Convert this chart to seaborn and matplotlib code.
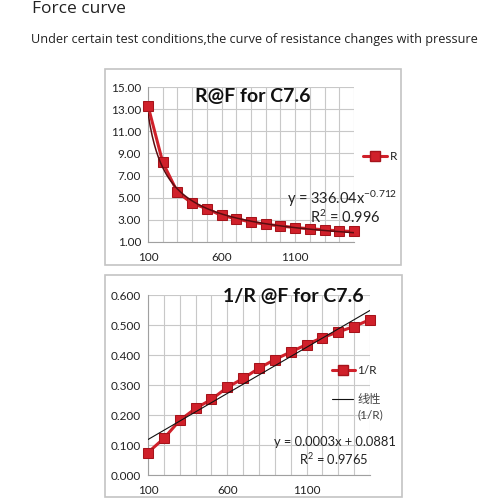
import numpy as np
import pandas as pd
import matplotlib
matplotlib.use("Agg")
import matplotlib.pyplot as plt
from matplotlib.patches import Rectangle
import seaborn as sns

force = [100, 200, 300, 400, 500, 600, 700, 800, 900, 1000, 1100, 1200, 1300, 1400, 1500]
resistance = [13.3, 8.2, 5.5, 4.5, 4.0, 3.4, 3.1, 2.8, 2.6, 2.45, 2.3, 2.2, 2.1, 2.0, 1.95]
inv_r = [0.075, 0.122, 0.182, 0.222, 0.252, 0.292, 0.322, 0.356, 0.385, 0.410,
         0.435, 0.458, 0.477, 0.495, 0.518]
power_a, power_b = 336.04, -0.712

sns.set_style("white")
plt.rcParams['font.family'] = ['Lato', 'Noto Sans CJK SC', 'DejaVu Sans']
plt.rcParams['mathtext.default'] = 'regular'

df = pd.DataFrame({"F": force, "R": resistance, "1/R": inv_r})
red = "#D0202A"
edge = "#A5141B"

fig = plt.figure(figsize=(5, 5), dpi=100)
W = H = 500.0

def fx(px):
    return px / W

def fy(py):
    return 1 - py / H

fig.text(fx(32), fy(9), "Force curve", fontsize=12.5, family=['Open Sans', 'DejaVu Sans'],
         va="center", ha="left", color="#222222")
fig.text(fx(31), fy(40), "Under certain test conditions,the curve of resistance changes with pressure",
         fontsize=9.05, family=['Open Sans', 'DejaVu Sans'], va="center", ha="left", color="#222222")

# chart frames
for (x0, y0, x1, y1) in [(105, 69, 401, 265), (105, 275, 402, 497)]:
    fig.patches.append(Rectangle((fx(x0), fy(y1)), fx(x1 - x0), (y1 - y0) / H,
                                 transform=fig.transFigure, fill=False,
                                 edgecolor="#C4C4C4", linewidth=1.2))

def style_axis(ax, yticks, fmt):
    ax.set_xlim(100, 1500)
    ax.set_xticks(force)
    ax.set_xticklabels([str(v) if v in (100, 600, 1100) else "" for v in force])
    ax.set_yticks(yticks)
    ax.set_yticklabels([fmt.format(v) for v in yticks])
    ax.set_ylim(yticks[0], yticks[-1])
    ax.grid(True, color="#C8C8C8", linewidth=0.8)
    for s in ["top", "right"]:
        ax.spines[s].set_visible(False)
    for s in ["left", "bottom"]:
        ax.spines[s].set_color("#A0A0A0")
        ax.spines[s].set_linewidth(0.8)
    ax.tick_params(axis="both", labelsize=8.5, length=3, color="#A0A0A0",
                   labelcolor="#222222", pad=2)
    ax.tick_params(axis="x", pad=4)
    ax.set_xlabel("")
    ax.set_ylabel("")

# top chart: R vs F
ax1 = fig.add_axes([fx(148), fy(242), (354 - 148) / W, (242 - 87) / H])
xs = np.linspace(100, 1500, 200)
sns.lineplot(data=df, x="F", y="R", ax=ax1, color=red, linewidth=2.2, marker="s",
             markersize=7.5, markeredgecolor=edge, markerfacecolor=red, clip_on=False, zorder=3)
ax1.plot(xs, power_a * xs ** power_b, color="#5A0C10", linewidth=1.1, zorder=4)
style_axis(ax1, [1, 3, 5, 7, 9, 11, 13, 15], "{:.2f}")
fig.text(fx(253), fy(96), "R@F for C7.6", fontsize=14, fontweight="bold",
         ha="center", va="center", color="#111111")
fig.text(fx(397), fy(199), "y = 336.04x$^{-0.712}$", fontsize=10.5, ha="right",
         va="center", color="#222222")
fig.text(fx(345), fy(217), "R$^2$ = 0.996", fontsize=10.5, ha="center",
         va="center", color="#222222")
fig.lines.append(plt.Line2D([fx(363), fx(387)], [fy(156), fy(156)], transform=fig.transFigure,
                            color=red, linewidth=2.2))
fig.lines.append(plt.Line2D([fx(375)], [fy(156)], transform=fig.transFigure,
                            color=red, marker="s", markersize=6.5, markeredgecolor=edge))
fig.text(fx(390), fy(156), "R", fontsize=8.5, ha="left", va="center", color="#222222")

# bottom chart: 1/R vs F
ax2 = fig.add_axes([fx(148), fy(475), (370 - 148) / W, (475 - 295) / H])
fit = np.polyfit(force, inv_r, 1)
sns.lineplot(data=df, x="F", y="1/R", ax=ax2, color=red, linewidth=2.2, marker="s",
             markersize=7.5, markeredgecolor=edge, markerfacecolor=red, clip_on=False, zorder=3)
ax2.plot(xs, np.polyval(fit, xs), color="#111111", linewidth=0.8, zorder=4)
style_axis(ax2, [0, 0.1, 0.2, 0.3, 0.4, 0.5, 0.6], "{:.3f}")
fig.text(fx(293), fy(296), "1/R @F for C7.6", fontsize=14, fontweight="bold",
         ha="center", va="center", color="#111111")
fig.text(fx(396), fy(442), "y = 0.0003x + 0.0881", fontsize=9.3, ha="right",
         va="center", color="#222222")
fig.text(fx(368), fy(459), "R$^2$ = 0.9765", fontsize=9.3, ha="right",
         va="center", color="#222222")
fig.lines.append(plt.Line2D([fx(332), fx(355)], [fy(370), fy(370)], transform=fig.transFigure,
                            color=red, linewidth=2.2))
fig.lines.append(plt.Line2D([fx(343)], [fy(370)], transform=fig.transFigure,
                            color=red, marker="s", markersize=6.5, markeredgecolor=edge))
fig.text(fx(357), fy(370), "1/R", fontsize=8.5, ha="left", va="center", color="#222222")
fig.lines.append(plt.Line2D([fx(332), fx(353)], [fy(399), fy(399)], transform=fig.transFigure,
                            color="#111111", linewidth=0.8))
fig.text(fx(357), fy(399), "线性", fontsize=8.5, ha="left", va="center", color="#444444")
fig.text(fx(357), fy(415), "(1/R)", fontsize=8.5, ha="left", va="center", color="#444444")

fig.savefig("out.png", dpi=100)
